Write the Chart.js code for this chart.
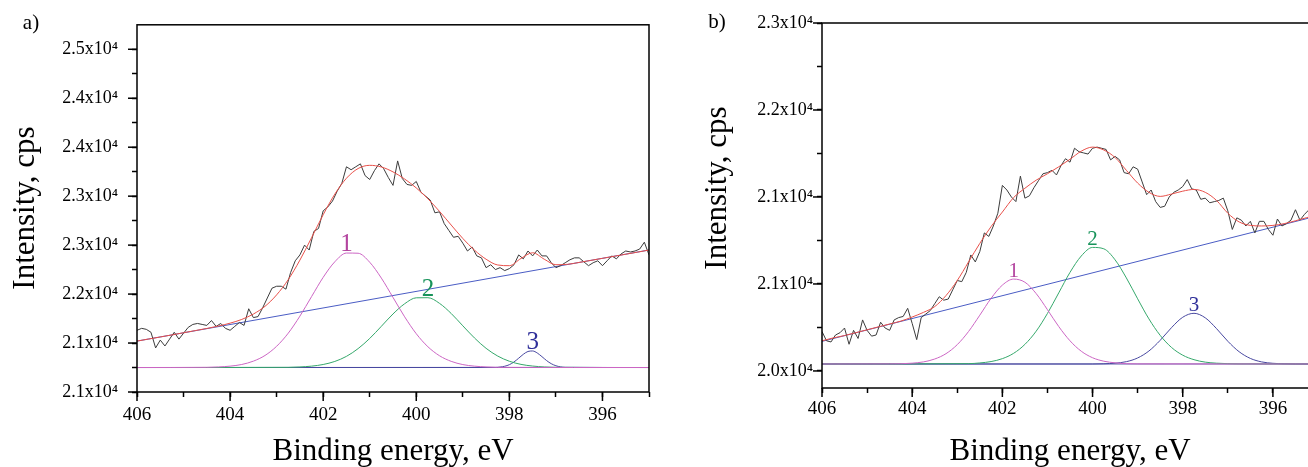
<!DOCTYPE html>
<html lang="en">
<head>
<meta charset="UTF-8">
<title>N 1s spectra</title>
<style>
  body { margin: 0; background: #fff; }
  .wrap { position: relative; width: 1308px; height: 467px; overflow: hidden; }
  canvas { position: absolute; top: 0; }
  #chart-a { left: 0; }
  #chart-b { left: 660px; }
</style>
</head>
<body>
<div class="wrap">
  <canvas id="chart-a" width="660" height="467"></canvas>
  <canvas id="chart-b" width="680" height="467"></canvas>
</div>
<script src="https://cdn.jsdelivr.net/npm/chart.js"></script>
<script>
// binding energy grids (eV)
const rawEnergy = [
  406.0, 405.9, 405.8, 405.7, 405.6, 405.5, 405.4, 405.3, 405.2, 405.1,
  405.0, 404.9, 404.8, 404.7, 404.6, 404.5, 404.4, 404.3, 404.2, 404.1,
  404.0, 403.9, 403.8, 403.7, 403.6, 403.5, 403.4, 403.3, 403.2, 403.1,
  403.0, 402.9, 402.8, 402.7, 402.6, 402.5, 402.4, 402.3, 402.2, 402.1,
  402.0, 401.9, 401.8, 401.7, 401.6, 401.5, 401.4, 401.3, 401.2, 401.1,
  401.0, 400.9, 400.8, 400.7, 400.6, 400.5, 400.4, 400.3, 400.2, 400.1,
  400.0, 399.9, 399.8, 399.7, 399.6, 399.5, 399.4, 399.3, 399.2, 399.1,
  399.0, 398.9, 398.8, 398.7, 398.6, 398.5, 398.4, 398.3, 398.2, 398.1,
  398.0, 397.9, 397.8, 397.7, 397.6, 397.5, 397.4, 397.3, 397.2, 397.1,
  397.0, 396.9, 396.8, 396.7, 396.6, 396.5, 396.4, 396.3, 396.2, 396.1,
  396.0, 395.9, 395.8, 395.7, 395.6, 395.5, 395.4, 395.3, 395.2, 395.1,
  395.0
];
const envEnergy = [
  406, 405.75, 405.5, 405.25, 405, 404.75, 404.5, 404.25, 404, 403.75,
  403.5, 403.25, 403, 402.75, 402.5, 402.25, 402, 401.75, 401.5, 401.25,
  401, 400.75, 400.5, 400.25, 400, 399.75, 399.5, 399.25, 399, 398.75,
  398.5, 398.25, 398, 397.75, 397.5, 397.25, 397, 396.75, 396.5, 396.25,
  396, 395.75, 395.5, 395.25, 395
];
const lineEnergy = [406, 395];

// ---- panel a ----
const aRaw = [
  21630, 21650, 21640, 21610, 21450, 21530, 21470, 21540, 21610, 21540,
  21600, 21660, 21690, 21700, 21690, 21680, 21730, 21670, 21700, 21650,
  21630, 21670, 21710, 21680, 21850, 21760, 21770, 21860, 21960, 22060,
  22080, 22080, 22050, 22220, 22340, 22400, 22500, 22450, 22640, 22670,
  22850, 22890, 22950, 23050, 23130, 23300, 23270, 23300, 23330, 23210,
  23170, 23260, 23330, 23280, 23190, 23110, 23360, 23180, 23120, 23110,
  23150, 23040, 23000, 22960, 22830, 22840, 22720, 22650, 22580, 22590,
  22520, 22440, 22480, 22390, 22370, 22270, 22300, 22250, 22270, 22240,
  22260, 22300, 22400, 22360, 22440, 22390, 22450, 22390, 22390, 22320,
  22270, 22290, 22320, 22350, 22370, 22370, 22330, 22290, 22320, 22340,
  22290, 22340, 22390, 22360, 22410, 22440, 22430, 22440, 22460, 22530,
  22400
];
const aEnvelope = [
  21520, 21541, 21562, 21583, 21605, 21627, 21649, 21674, 21703, 21741,
  21796, 21875, 21992, 22148, 22347, 22575, 22810, 23021, 23183, 23282,
  23315, 23298, 23248, 23175, 23084, 22973, 22844, 22705, 22568, 22449,
  22356, 22297, 22290, 22364, 22422, 22356, 22300, 22304, 22323, 22344,
  22365, 22386, 22407, 22428, 22450
];
const aP1Energy = [406, 404.5, 404.25, 404, 403.75, 403.5, 403.25, 403, 402.75, 402.5, 402.25, 402, 401.75, 401.5,
  401.25, 401, 400.75, 400.5, 400.25, 400, 399.75, 399.5, 399.25, 399, 398.75, 398.5, 398.25, 395];
const aP1 = [21250, 21252, 21256, 21264, 21281, 21315, 21373, 21467, 21601, 21775, 21974, 22171, 22330, 22419,
  22417, 22325, 22163, 21966, 21768, 21595, 21462, 21370, 21313, 21280, 21264, 21256, 21252, 21250];
const aP2Energy = [406, 402.75, 402.5, 402.25, 402, 401.75, 401.5, 401.25, 401, 400.75, 400.5, 400.25, 400,
  399.75, 399.5, 399.25, 399, 398.75, 398.5, 398.25, 398, 397.75, 397.5, 397.25, 397, 395];
const aP2 = [21250, 21252, 21256, 21264, 21281, 21312, 21364, 21443, 21547, 21671, 21797, 21901, 21962,
  21963, 21905, 21802, 21676, 21552, 21446, 21367, 21314, 21282, 21265, 21256, 21252, 21250];
const aP3Energy = [406, 398.3, 398.2, 398.1, 398.0, 397.9, 397.8, 397.7, 397.6, 397.5, 397.4, 397.3, 397.2,
  397.1, 397.0, 396.9, 396.8, 395];
const aP3 = [21250, 21251, 21255, 21263, 21279, 21307, 21345, 21385, 21414, 21419, 21398, 21361, 21321,
  21289, 21268, 21257, 21252, 21250];
const aBackground = [21520, 22450];
const aBaseline = [21250, 21250];
const aYMajor = [21000, 21500, 22000, 22500, 23000, 23500, 24000, 24500];
const aYLabels = ['2.1', '2.1', '2.2', '2.3', '2.3', '2.4', '2.4', '2.5'];

// ---- panel b ----
const bRaw = [
  20340, 20260, 20250, 20310, 20330, 20370, 20230, 20350, 20280, 20440,
  20350, 20300, 20310, 20420, 20370, 20350, 20440, 20460, 20470, 20540,
  20410, 20270, 20460, 20490, 20520, 20580, 20640, 20610, 20620, 20700,
  20780, 20770, 20850, 21000, 20940, 21030, 21190, 21160, 21250, 21360,
  21600, 21560, 21500, 21460, 21680, 21490, 21510, 21580, 21640, 21700,
  21710, 21730, 21690, 21770, 21830, 21800, 21920, 21890, 21880, 21870,
  21920, 21930, 21920, 21910, 21820, 21850, 21820, 21710, 21700, 21760,
  21740, 21630, 21520, 21560, 21460, 21410, 21420, 21500, 21540, 21560,
  21590, 21650, 21570, 21560, 21480, 21490, 21450, 21460, 21470, 21490,
  21380, 21220, 21320, 21300, 21250, 21290, 21190, 21290, 21290, 21220,
  21170, 21310, 21250, 21270, 21300, 21390, 21300, 21350, 21390, 21360,
  21380
];
const bEnvelope = [
  20260, 20285, 20305, 20330, 20355, 20380, 20405, 20430, 20465, 20505,
  20555, 20650, 20780, 20940, 21100, 21245, 21370, 21495, 21575, 21645,
  21700, 21760, 21825, 21895, 21930, 21905, 21840, 21730, 21620, 21540,
  21505, 21525, 21550, 21565, 21540, 21470, 21360, 21285, 21255, 21250,
  21255, 21270, 21295, 21322, 21345
];
const bP1Energy = [406, 404.5, 404.25, 404, 403.75, 403.5, 403.25, 403, 402.75, 402.5, 402.25, 402, 401.75,
  401.5, 401.25, 401, 400.75, 400.5, 400.25, 400, 399.75, 399.5, 399.25, 399, 395];
const bP1 = [20060, 20061, 20062, 20067, 20078, 20103, 20149, 20227, 20340, 20481, 20626, 20740, 20792,
  20765, 20667, 20528, 20383, 20260, 20170, 20114, 20084, 20070, 20063, 20061, 20060];
const bP2Energy = [406, 402.75, 402.5, 402.25, 402, 401.75, 401.5, 401.25, 401, 400.75, 400.5, 400.25, 400,
  399.75, 399.5, 399.25, 399, 398.75, 398.5, 398.25, 398, 397.75, 397.5, 397.25, 397, 396.75, 395];
const bP2 = [20060, 20063, 20069, 20081, 20106, 20152, 20229, 20343, 20496, 20673, 20850, 20991, 21065,
  21053, 20958, 20802, 20622, 20449, 20307, 20203, 20136, 20097, 20076, 20067, 20063, 20061, 20060];
const bP3Energy = [406, 400, 399.75, 399.5, 399.25, 399, 398.75, 398.5, 398.25, 398, 397.75, 397.5, 397.25,
  397, 396.75, 396.5, 396.25, 396, 395.75, 395.5, 395];
const bP3 = [20060, 20060, 20062, 20067, 20080, 20112, 20172, 20264, 20373, 20463, 20497, 20458, 20365,
  20256, 20166, 20108, 20078, 20066, 20062, 20060, 20060];
const bBackground = [20255, 21338];
const bBaseline = [20060, 20060];
const bYMajor = [20000, 20750, 21500, 22250, 23000];
const bYLabels = ['2.0', '2.1', '2.1', '2.2', '2.3'];

const serif = '"Liberation Serif", "Times New Roman", serif';

function pts(xs, ys) {
  return xs.map((x, i) => ({ x: x, y: ys[i] }));
}

// frame, longer major ticks, panel tag, y title and peak numbers
const decor = {
  id: 'decor',
  afterDatasetsDraw(chart) {
    const ctx = chart.ctx, sx = chart.scales.x, sy = chart.scales.y;
    ctx.save();
    chart.data.datasets.forEach(ds => {
      if (!ds.peakLabel) return;
      let top = ds.data[0];
      ds.data.forEach(p => { if (p.y > top.y) top = p; });
      ctx.font = ds.labelSize + 'px ' + serif;
      ctx.fillStyle = ds.labelColor;
      ctx.textAlign = 'center';
      ctx.textBaseline = 'alphabetic';
      ctx.fillText(ds.peakLabel, sx.getPixelForValue(top.x), sy.getPixelForValue(top.y) - 2);
    });
    ctx.restore();
  },
  afterDraw(chart, args, opts) {
    const ctx = chart.ctx, a = chart.chartArea;
    ctx.save();
    ctx.strokeStyle = '#000';
    ctx.lineWidth = 1.5;
    ctx.strokeRect(a.left, a.top, a.right - a.left, a.bottom - a.top);
    ['x', 'y'].forEach(id => {
      const s = chart.scales[id];
      s.ticks.forEach((t, i) => {
        if (!t.label) return;
        const p = s.getPixelForTick(i);
        ctx.beginPath();
        if (id === 'x') { ctx.moveTo(p, a.bottom); ctx.lineTo(p, a.bottom + 9); }
        else { ctx.moveTo(a.left, p); ctx.lineTo(a.left - 9, p); }
        ctx.stroke();
      });
    });
    ctx.fillStyle = '#000';
    ctx.textAlign = 'center';
    ctx.textBaseline = 'middle';
    ctx.font = '21px ' + serif;
    ctx.fillText(opts.tag, opts.tagX, opts.tagY);
    ctx.font = '31px ' + serif;
    ctx.translate(opts.titleX, opts.titleY);
    ctx.rotate(-Math.PI / 2);
    ctx.fillText(opts.title, 0, 0);
    ctx.restore();
  }
};

function curve(data, color, order, extra) {
  return Object.assign({
    data: data, borderColor: color, borderWidth: 1, pointRadius: 0, fill: false,
    order: order, cubicInterpolationMode: 'monotone'
  }, extra || {});
}

function makeChart(id, d, o) {
  const minor = d.yMajor.slice(1).map((v, i) => (v + d.yMajor[i]) / 2);
  const yTicks = d.yMajor.concat(minor).sort((p, q) => p - q);
  return new Chart(document.getElementById(id), {
    type: 'line',
    data: {
      datasets: [
        curve(pts(envEnergy, d.envelope), '#e8504a', 1),
        curve(pts(rawEnergy, d.raw), '#3c3c3c', 2, { cubicInterpolationMode: 'default', tension: 0 }),
        curve(pts(d.p1x, d.p1), '#cc66c4', 3, { peakLabel: '1', labelColor: '#b3449f', labelSize: o.labelSize }),
        curve(pts(d.p2x, d.p2), '#35a86b', 4, { peakLabel: '2', labelColor: '#17935a', labelSize: o.labelSize }),
        curve(pts(d.p3x, d.p3), '#4848a0', 5, { peakLabel: '3', labelColor: '#30309a', labelSize: o.labelSize }),
        curve(pts(lineEnergy, d.background), '#4a5cc4', 6),
        curve(pts(lineEnergy, d.baseline), '#5a5aa8', 7)
      ]
    },
    options: {
      responsive: false,
      animation: false,
      devicePixelRatio: 1,
      layout: { padding: o.padding },
      plugins: {
        legend: { display: false },
        tooltip: { enabled: false },
        decor: o.decor
      },
      scales: {
        x: {
          type: 'linear', reverse: true, min: 395, max: 406,
          afterFit: s => { s.height = o.xHeight; },
          ticks: {
            stepSize: 1, autoSkip: false, maxRotation: 0, padding: o.xPad,
            color: '#000', font: { family: serif, size: 19 },
            callback: v => (v % 2 === 0 ? String(v) : '')
          },
          grid: { drawOnChartArea: false, tickLength: 5, tickWidth: 1.5, tickColor: '#000' },
          border: { display: false },
          title: {
            display: true, text: 'Binding energy, eV', color: '#000', padding: 0,
            font: { family: serif, size: 31, lineHeight: 1 }
          }
        },
        y: {
          type: 'linear', min: d.yMin, max: d.yMax,
          afterBuildTicks: s => { s.ticks = yTicks.map(v => ({ value: v })); },
          afterFit: s => { s.width = o.yWidth; },
          ticks: {
            padding: o.yPad, color: '#000', font: { family: serif, size: 18 },
            callback: v => {
              const i = d.yMajor.indexOf(v);
              return i < 0 ? '' : d.yLabels[i] + 'x10\u2074';
            }
          },
          grid: { drawOnChartArea: false, tickLength: 5, tickWidth: 1.5, tickColor: '#000' },
          border: { display: false }
        }
      }
    },
    plugins: [decor]
  });
}

makeChart('chart-a', {
  raw: aRaw, envelope: aEnvelope,
  p1x: aP1Energy, p1: aP1, p2x: aP2Energy, p2: aP2, p3x: aP3Energy, p3: aP3,
  background: aBackground, baseline: aBaseline,
  yMajor: aYMajor, yLabels: aYLabels, yMin: 21000, yMax: 24750
}, {
  padding: { left: 0, top: 17, right: 11, bottom: 0 },
  xHeight: 75, yWidth: 137, xPad: 7, yPad: 14, labelSize: 25,
  decor: { tag: 'a)', tagX: 31, tagY: 23, title: 'Intensity, cps', titleX: 26, titleY: 208 }
});

makeChart('chart-b', {
  raw: bRaw, envelope: bEnvelope,
  p1x: bP1Energy, p1: bP1, p2x: bP2Energy, p2: bP2, p3x: bP3Energy, p3: bP3,
  background: bBackground, baseline: bBaseline,
  yMajor: bYMajor, yLabels: bYLabels, yMin: 19853, yMax: 23000
}, {
  padding: { left: 0, top: 23, right: 22, bottom: 0 },
  xHeight: 79, yWidth: 162, xPad: 5, yPad: 4, labelSize: 21,
  decor: { tag: 'b)', tagX: 57, tagY: 22, title: 'Intensity, cps', titleX: 58, titleY: 188 }
});
</script>
</body>
</html>
